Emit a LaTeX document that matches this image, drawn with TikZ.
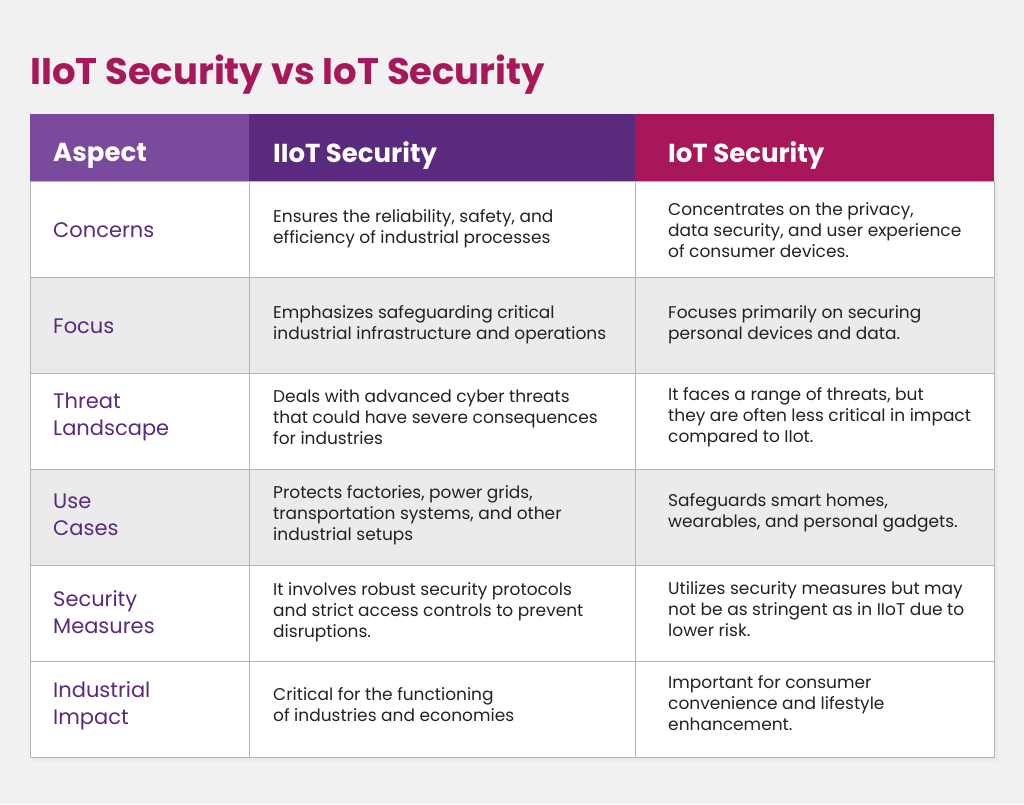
\documentclass[tikz,border=0pt]{standalone}
\usepackage{fontspec}
\setmainfont{Poppins}
\definecolor{bgc}{HTML}{F1F1F2}
\definecolor{mag}{HTML}{A8175A}
\definecolor{purA}{HTML}{7A4A9C}
\definecolor{purB}{HTML}{5A2A7E}
\definecolor{rowg}{HTML}{EBEBEB}
\definecolor{gridc}{HTML}{B4B4B4}
\definecolor{txt}{HTML}{222222}
\definecolor{asp}{HTML}{5A2A7E}
\tikzset{
 body/.style={anchor=west,align=left,font=\fontsize{17}{21}\selectfont,text=txt,inner sep=0pt},
 aspect/.style={anchor=west,align=left,font=\fontsize{21}{27}\selectfont,text=asp,inner sep=0pt},
 head/.style={anchor=west,font=\bfseries\fontsize{26}{30}\selectfont,text=white,inner sep=0pt},
}
\begin{document}
\begin{tikzpicture}[x=1pt,y=-1pt]
\fill[bgc] (0,0) rectangle (1024,804);
\node[anchor=west,inner sep=0pt,text=mag,font=\bfseries\fontsize{37}{40}\selectfont] (title) at (30,75) {IIoT Security vs IoT Security};
% shadow
\fill[black!8] (32,116) rectangle (998,761);
% rows
\fill[white] (30,181) rectangle (994,757);
\fill[rowg] (30,277) rectangle (994,373);
\fill[rowg] (30,469) rectangle (994,565);
\fill[purA] (30,114) rectangle (249,181);
\fill[purB] (249,114) rectangle (635,181);
\fill[mag] (635,114) rectangle (994,181);
\foreach \i in {1,...,5}{\draw[gridc] (30,{181+96*\i}) -- (994,{181+96*\i});}
\draw[gridc] (249,181) -- (249,757) (635,181) -- (635,757) (30,181) rectangle (994,757);
\node[head] (h1) at (53,156) {Aspect};
\node[head] (h2) at (273,156) {IIoT Security};
\node[head] (h3) at (668,156) {IoT Security};
\node[aspect] (a1) at (53,230) {Concerns};
\node[aspect] (a2) at (53,326) {Focus};
\node[aspect] (a3) at (53,417) {Threat\\Landscape};
\node[aspect] (a4) at (53,515) {Use\\Cases};
\node[aspect] (a5) at (53,612) {Security\\Measures};
\node[aspect] (a6) at (53,706) {Industrial\\Impact};
\node[body] (b1) at (273,229) {Ensures the reliability, safety, and\\efficiency of industrial processes};
\node[body] (b2) at (273,325) {Emphasizes safeguarding critical\\industrial infrastructure and operations};
\node[body] (b3) at (273,417) {Deals with advanced cyber threats\\that could have severe consequences\\for industries};
\node[body] (b4) at (273,515) {Protects factories, power grids,\\transportation systems, and other\\industrial setups};
\node[body] (b5) at (273,612) {It involves robust security protocols\\and strict access controls to prevent\\disruptions.};
\node[body] (b6) at (273,705) {Critical for the functioning\\of industries and economies};
\node[body] (c1) at (668,230) {Concentrates on the privacy,\\data security, and user experience\\of consumer devices.};
\node[body] (c2) at (668,325) {Focuses primarily on securing\\personal devices and data.};
\node[body] (c3) at (668,417) {It faces a range of threats, but\\they are often less critical in impact\\compared to IIot.};
\node[body] (c4) at (668,513) {Safeguards smart homes,\\wearables, and personal gadgets.};
\node[body] (c5) at (668,609) {Utilizes security measures but may\\not be as stringent as in IIoT due to\\lower risk.};
\node[body] (c6) at (668,703) {Important for consumer\\convenience and lifestyle\\enhancement.};
\end{tikzpicture}
\end{document}
